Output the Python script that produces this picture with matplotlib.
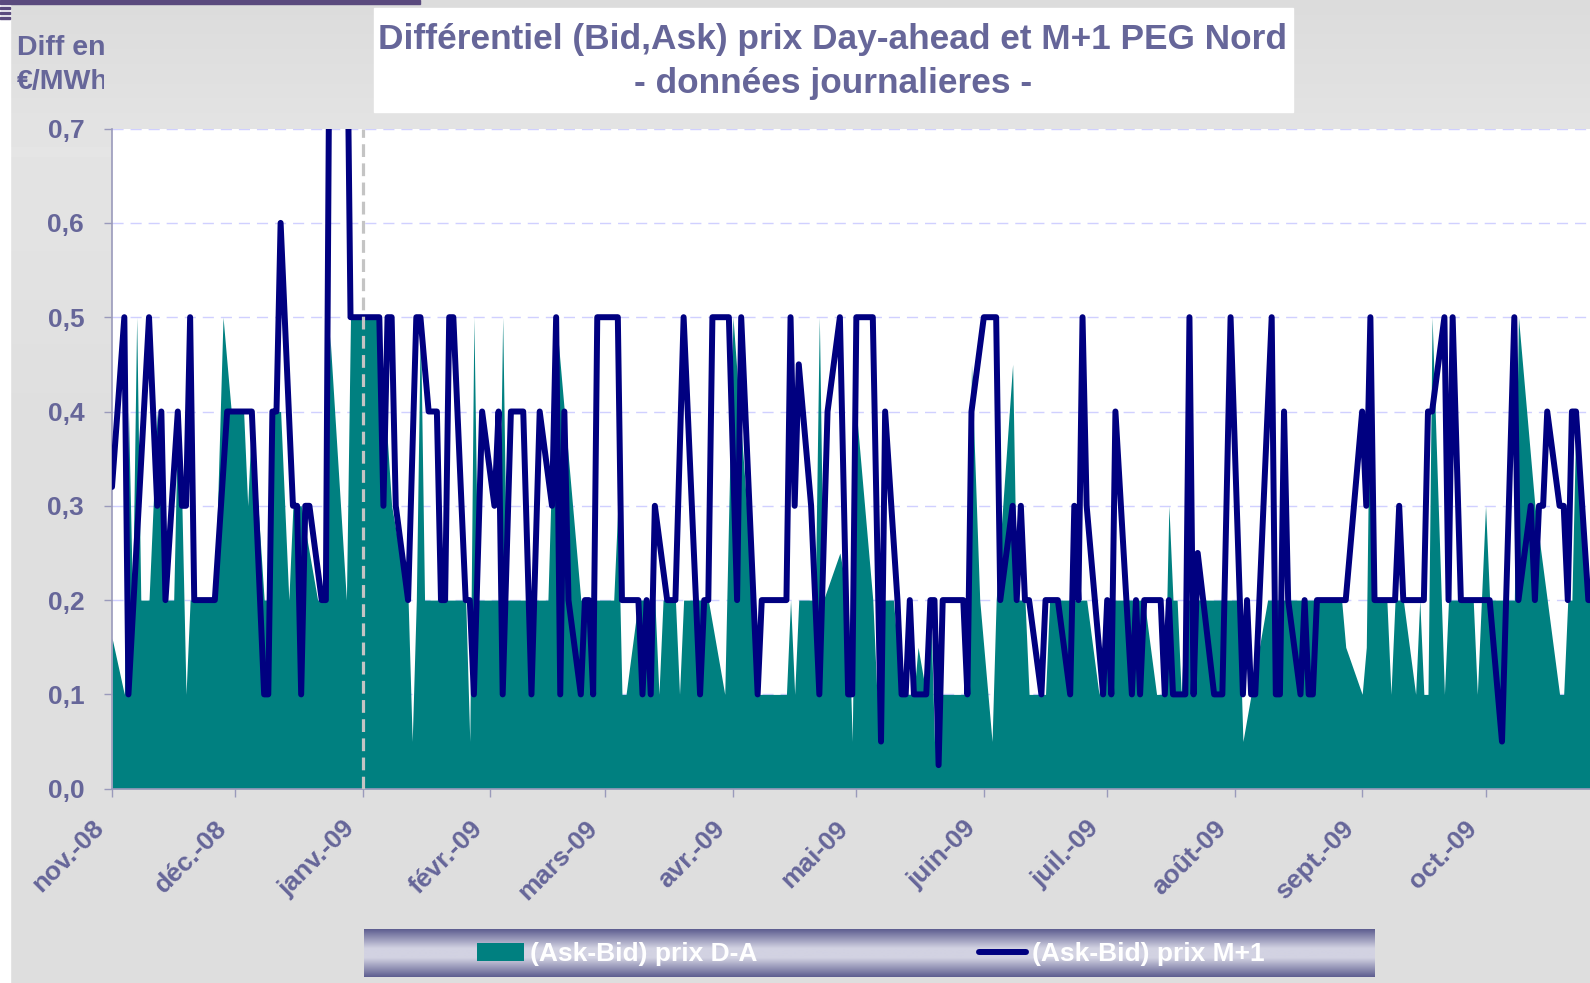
import matplotlib
matplotlib.use("Agg")
import matplotlib.pyplot as plt
import numpy as np
import pandas as pd
from matplotlib.patches import Rectangle
from matplotlib.transforms import Bbox, ScaledTranslation

START = pd.Timestamp("2008-11-01")

month_labels = ["nov.-08", "déc.-08", "janv.-09", "févr.-09", "mars-09", "avr.-09",
                "mai-09", "juin-09", "juil.-09", "août-09", "sept.-09", "oct.-09"]

# (Ask-Bid) prix M+1 -- days since 2008-11-01, value in EUR/MWh
m1_days = [0, 3, 4, 9, 11, 12, 13, 16, 17, 18, 19, 20, 25, 28, 34, 37, 38, 39, 40, 41,
           44, 45, 46, 47, 48, 51, 52, 53, 55, 57, 58, 65, 66, 67, 68, 69, 72, 74, 75, 77,
           79, 80, 81, 82, 83, 86, 87, 88, 90, 93, 94, 95, 97, 100, 102, 104, 107, 108, 109, 110,
           111, 114, 115, 116, 117, 118, 123, 124, 128, 129, 130, 131, 132, 135, 137, 139, 143, 144, 145, 146,
           150, 152, 153, 157, 158, 164, 165, 166, 167, 170, 172, 174, 177, 179, 180, 181, 185, 187, 188, 191,
           192, 193, 194, 195, 198, 199, 200, 201, 202, 207, 208, 209, 212, 215, 216, 219, 220, 221, 222, 223,
           226, 227, 230, 233, 234, 235, 236, 237, 241, 242, 243, 244, 248, 249, 250, 251, 255, 256, 257, 258,
           261, 262, 263, 264, 268, 270, 272, 275, 276, 277, 278, 282, 283, 284, 285, 286, 289, 290, 291, 292,
           293, 300, 304, 305, 306, 307, 312, 313, 314, 319, 320, 321, 324, 325, 326, 328, 335, 338, 341, 342,
           345, 346, 347, 348, 349, 352, 353, 354, 355, 356, 359, 362]
m1_vals = [0.32, 0.5, 0.1, 0.5, 0.3, 0.4, 0.2, 0.4, 0.3, 0.3, 0.5, 0.2, 0.2, 0.4, 0.4, 0.1, 0.1, 0.4, 0.4, 0.6,
           0.3, 0.3, 0.1, 0.3, 0.3, 0.2, 0.2, 0.9, 1.0, 0.9, 0.5, 0.5, 0.3, 0.5, 0.5, 0.3, 0.2, 0.5, 0.5, 0.4,
           0.4, 0.2, 0.2, 0.5, 0.5, 0.2, 0.2, 0.1, 0.4, 0.3, 0.4, 0.1, 0.4, 0.4, 0.1, 0.4, 0.3, 0.5, 0.1, 0.4,
           0.2, 0.1, 0.2, 0.2, 0.1, 0.5, 0.5, 0.2, 0.2, 0.1, 0.2, 0.1, 0.3, 0.2, 0.2, 0.5, 0.1, 0.2, 0.2, 0.5,
           0.5, 0.2, 0.5, 0.1, 0.2, 0.2, 0.5, 0.3, 0.45, 0.3, 0.1, 0.4, 0.5, 0.1, 0.1, 0.5, 0.5, 0.05, 0.4, 0.2,
           0.1, 0.1, 0.2, 0.1, 0.1, 0.2, 0.2, 0.025, 0.2, 0.2, 0.1, 0.4, 0.5, 0.5, 0.2, 0.3, 0.2, 0.3, 0.2, 0.2,
           0.1, 0.2, 0.2, 0.1, 0.3, 0.2, 0.5, 0.3, 0.1, 0.2, 0.1, 0.4, 0.1, 0.2, 0.1, 0.2, 0.2, 0.1, 0.2, 0.1,
           0.1, 0.5, 0.1, 0.25, 0.1, 0.1, 0.5, 0.1, 0.2, 0.1, 0.1, 0.5, 0.1, 0.1, 0.4, 0.2, 0.1, 0.2, 0.1, 0.1,
           0.2, 0.2, 0.4, 0.3, 0.5, 0.2, 0.2, 0.3, 0.2, 0.2, 0.4, 0.4, 0.5, 0.2, 0.5, 0.2, 0.2, 0.05, 0.5, 0.2,
           0.3, 0.2, 0.3, 0.3, 0.4, 0.3, 0.3, 0.2, 0.4, 0.4, 0.2, 0.2]

# (Ask-Bid) prix D-A
da_days = [0, 3, 4, 5, 6, 7, 9, 11, 12, 13, 15, 16, 17, 18, 19, 25, 27, 29, 32, 33,
           34, 37, 38, 39, 41, 43, 44, 46, 50, 52, 53, 57, 58, 65, 68, 72, 73, 74, 75, 76,
           86, 87, 88, 89, 94, 95, 96, 106, 108, 111, 114, 122, 123, 124, 125, 128, 132, 133, 134, 137,
           138, 139, 145, 149, 151, 156, 157, 164, 165, 166, 167, 171, 172, 173, 177, 179, 180, 181, 185, 186,
           187, 190, 192, 195, 196, 198, 199, 200, 201, 208, 209, 211, 212, 214, 215, 219, 220, 222, 223, 227,
           228, 237, 240, 242, 251, 254, 256, 257, 258, 259, 260, 261, 274, 275, 277, 281, 299, 300, 304, 305,
           306, 307, 310, 311, 312, 314, 317, 318, 319, 320, 321, 324, 325, 331, 332, 334, 335, 341, 342, 346,
           349, 352, 353, 354, 355, 356, 359, 362]
da_vals = [0.16, 0.1, 0.4, 0.2, 0.5, 0.2, 0.2, 0.4, 0.3, 0.2, 0.2, 0.4, 0.3, 0.1, 0.2, 0.2, 0.5, 0.4, 0.4, 0.3,
           0.4, 0.2, 0.2, 0.4, 0.4, 0.2, 0.3, 0.3, 0.2, 0.2, 0.48, 0.2, 0.5, 0.5, 0.3, 0.2, 0.05, 0.2, 0.5, 0.2,
           0.2, 0.05, 0.5, 0.2, 0.2, 0.5, 0.2, 0.2, 0.5, 0.35, 0.2, 0.2, 0.3, 0.1, 0.1, 0.2, 0.2, 0.1, 0.2, 0.2,
           0.1, 0.2, 0.2, 0.1, 0.5, 0.2, 0.1, 0.1, 0.2, 0.1, 0.2, 0.2, 0.5, 0.2, 0.25, 0.2, 0.05, 0.4, 0.2, 0.1,
           0.2, 0.2, 0.1, 0.1, 0.15, 0.1, 0.2, 0.05, 0.1, 0.1, 0.45, 0.2, 0.15, 0.05, 0.2, 0.45, 0.2, 0.2, 0.1, 0.1,
           0.2, 0.2, 0.1, 0.2, 0.2, 0.1, 0.1, 0.3, 0.2, 0.2, 0.1, 0.2, 0.2, 0.05, 0.1, 0.2, 0.2, 0.15, 0.1, 0.15,
           0.5, 0.2, 0.2, 0.1, 0.2, 0.2, 0.1, 0.2, 0.1, 0.1, 0.5, 0.1, 0.2, 0.2, 0.1, 0.3, 0.2, 0.2, 0.5, 0.3,
           0.2, 0.1, 0.1, 0.2, 0.2, 0.4, 0.2, 0.2]

TEXT = "#666699"
TEAL = "#008080"
NAVY = "#000080"
W, H = 1590, 983

plt.rcParams["font.family"] = ["Liberation Sans", "DejaVu Sans"]
plt.rcParams["font.weight"] = "bold"

fig = plt.figure(figsize=(W / 100, H / 100), dpi=100)

# grey panel background
bg = fig.add_axes([0, 0, 1, 1], zorder=-10)
rows = np.linspace(0, 1, 200)
shade = np.interp(rows, [0, 0.6, 0.85, 1], [0.87, 0.875, 0.895, 0.86])
bg.imshow(np.repeat(shade[:, None], 2, axis=1), cmap="gray", vmin=0, vmax=1,
          aspect="auto", extent=[0, 1, 0, 1])
bg.set_xlim(0, 1)
bg.set_ylim(1, 0)
bg.axis("off")
fig.add_artist(Rectangle((0, 0), 10 / W, 1, transform=fig.transFigure, color="white", zorder=-5))
fig.add_artist(Rectangle((0, 1 - 4 / H), 420 / W, 4 / H, transform=fig.transFigure,
                         color="#5a4a7e", zorder=-5))
for yy in (9, 14, 19):
    fig.add_artist(Rectangle((0, 1 - yy / H), 10 / W, 2 / H, transform=fig.transFigure,
                             color="#5a4a7e", zorder=-4))

# main plot area
ax = fig.add_axes([112 / W, 1 - 788.7 / H, 1 - 112 / W, (788.7 - 128.6) / H])
ax.set_facecolor("white")

x_da = START + pd.to_timedelta(da_days, unit="D")
x_m1 = START + pd.to_timedelta(m1_days, unit="D")
ax.fill_between(x_da, da_vals, color=TEAL, lw=0, label="(Ask-Bid) prix D-A", zorder=2)
ax.plot(x_m1, m1_vals, color=NAVY, lw=4.3, solid_joinstyle="round", solid_capstyle="round",
        label="(Ask-Bid) prix M+1", zorder=3)
ax.axvline(pd.Timestamp("2009-01-01"), color="#c4c4c4", lw=2.3, ls=(0, (4, 2)), zorder=4)

ax.set_ylim(0, 0.7)
ax.set_xlim(START, START + pd.Timedelta(days=359.4))

yt = np.arange(0, 0.71, 0.1)
ax.set_yticks(yt)
ax.set_yticklabels([f"{v:.1f}".replace(".", ",") for v in yt])
ax.set_xticks(pd.date_range(START, periods=len(month_labels), freq="MS"))
ax.set_xticklabels(month_labels, rotation=45, ha="right", va="center", rotation_mode="anchor")

ax.set_axisbelow(True)
ax.yaxis.grid(True, color="#d0d0ff", ls=(0, (8, 5)), lw=1)
ax.tick_params(axis="both", direction="out", length=6, width=1, color="#9a9abb",
               labelcolor=TEXT, labelsize=19)
ax.tick_params(axis="y", pad=14)
ax.tick_params(axis="x", pad=17)
# nudge the slanted month labels a bit to the left/down, as in the original
shift = ScaledTranslation(-0.12, -0.04, fig.dpi_scale_trans)
for lbl in ax.get_xticklabels():
    lbl.set_transform(lbl.get_transform() + shift)
for side in ("top", "right"):
    ax.spines[side].set_visible(False)
for side in ("left", "bottom"):
    ax.spines[side].set_color("#9a9abb")
    ax.spines[side].set_linewidth(1.2)

# title box
fig.add_artist(Rectangle((374 / W, 1 - 112 / H), (1293 - 374) / W, 104 / H,
                         transform=fig.transFigure, color="white", zorder=1))
fig.text(833 / W, 1 - 39 / H, "Différentiel (Bid,Ask) prix Day-ahead et M+1 PEG Nord",
         ha="center", va="center", fontsize=25.4, color=TEXT, weight="bold")
fig.text(833 / W, 1 - 83 / H, "- données journalieres -",
         ha="center", va="center", fontsize=25.4, color=TEXT, weight="bold")

# y unit label, clipped by the plot frame like in the original
ylab = fig.text(17 / W, 1 - 35 / H, "Diff en\n€/MWh", ha="left", va="top",
                fontsize=20.5, color=TEXT, weight="bold", linespacing=1.4)
ylab.set_clip_box(Bbox([[0, 0], [104, H]]))
ylab.set_clip_on(True)

# legend band with gradient
lax = fig.add_axes([364 / W, 1 - 977 / H, (1375 - 364) / W, 48 / H], zorder=1)
prof = np.linspace(0, 1, 100)
c_dark = np.array([0x5e, 0x5e, 0x90]) / 255
c_light = np.array([0xd2, 0xd2, 0xe2]) / 255
mix = np.interp(prof, [0, 0.4, 0.6, 1], [0, 1, 1, 0])
band = c_dark[None, :] * (1 - mix[:, None]) + c_light[None, :] * mix[:, None]
lax.imshow(np.repeat(band[:, None, :], 2, axis=1), aspect="auto", extent=[0, 1, 0, 1])
lax.axis("off")

handles, labels = ax.get_legend_handles_labels()
fig.legend(handles, labels, loc="center left", bbox_to_anchor=(477 / W, 1 - 954 / H), ncol=2,
           frameon=False, fontsize=19, labelcolor="white", handlelength=1.78,
           handletextpad=0.22, columnspacing=8.4, borderpad=0, borderaxespad=0)

fig.savefig("out.png", dpi=100)
